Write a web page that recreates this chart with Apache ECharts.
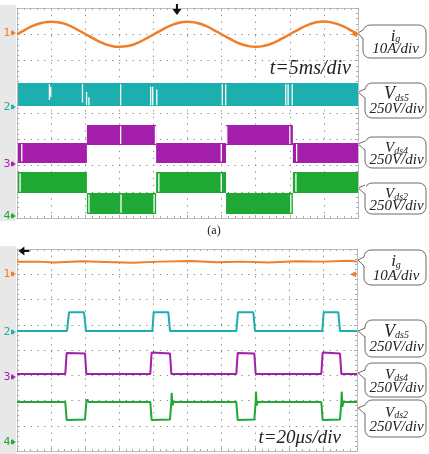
<!DOCTYPE html>
<html>
<head>
<meta charset="utf-8">
<script src="https://cdn.jsdelivr.net/npm/echarts@6/dist/echarts.min.js"></script>
<style>
  html, body { margin: 0; padding: 0; background: #fff; }
  #chart { width: 429px; height: 454px; }
</style>
</head>
<body>
<div id="chart"></div>
<script>
// ---- data, in scope divisions (x: 0..10, y: 0..8) ----
// (a) t = 5 ms/div
const igA = [
  [0, 7.00], [0.25, 7.18], [0.5, 7.34], [0.75, 7.44], [1, 7.48], [1.25, 7.45], [1.5, 7.35], [1.75, 7.19],
  [2, 7.01], [2.25, 6.83], [2.5, 6.67], [2.75, 6.56], [3, 6.52], [3.25, 6.55], [3.5, 6.65], [3.75, 6.81],
  [4, 6.99], [4.25, 7.17], [4.5, 7.33], [4.75, 7.44], [5, 7.48], [5.25, 7.44], [5.5, 7.34], [5.75, 7.18],
  [6, 7.00], [6.25, 6.82], [6.5, 6.66], [6.75, 6.56], [7, 6.52], [7.25, 6.56], [7.5, 6.66], [7.75, 6.82],
  [8, 7.00], [8.25, 7.18], [8.5, 7.34], [8.75, 7.45], [9, 7.49], [9.25, 7.44], [9.5, 7.34], [9.75, 7.18],
  [10, 7.00]
];
// switching bands: [xStart, xEnd, yLow, yHigh]
const vds5BandA = [[0.03, 10, 4.27, 5.14]];
const vds4BandA = [
  [0.03, 2.05, 2.10, 2.86], [2.05, 4.08, 2.78, 3.54], [4.08, 6.13, 2.10, 2.86],
  [6.13, 8.09, 2.78, 3.54], [8.09, 10, 2.10, 2.86]
];
const vds2BandA = [
  [0.03, 2.05, 0.95, 1.75], [2.05, 4.08, 0.15, 0.95], [4.08, 6.13, 0.95, 1.75],
  [6.13, 8.09, 0.15, 0.95], [8.09, 10, 0.95, 1.75]
];
// white glitches inside the bands: [x, yFrom, yTo]
const bandGapsA = [
  [0.95, 4.5, 5.1], [0.99, 4.6, 5.0], [1.92, 4.4, 5.1], [2.04, 4.3, 4.8], [2.11, 4.3, 4.6],
  [3.04, 4.3, 5.1], [3.92, 4.3, 5.0], [3.98, 4.3, 5.0], [4.10, 4.3, 4.9], [6.02, 4.3, 5.1],
  [6.12, 4.3, 5.1], [7.88, 4.3, 5.1], [7.95, 4.3, 5.1], [8.07, 4.3, 5.1],
  [0.14, 2.15, 2.82], [3.04, 2.82, 3.5], [4.06, 2.82, 3.5], [5.99, 2.15, 2.82], [6.15, 2.82, 3.5],
  [8.0, 2.82, 3.5], [8.2, 2.15, 2.82],
  [0.09, 1.0, 1.7], [2.11, 0.2, 0.9], [3.05, 0.2, 0.9], [4.02, 0.2, 0.9], [4.16, 1.0, 1.7],
  [5.99, 1.0, 1.7], [8.03, 0.2, 0.9], [8.18, 1.0, 1.7]
];
const markersA = [7.05, 4.23, 2.06, 0.08];
const triggerA = [4.69, 8.0];

// (b) t = 20 us/div
const igB = [
  [0, 7.50], [0.6, 7.50], [1.1, 7.47], [1.9, 7.51], [2.6, 7.49], [3.4, 7.46], [4.2, 7.50],
  [5.1, 7.52], [5.9, 7.48], [6.6, 7.50], [7.4, 7.47], [8.2, 7.51], [9.0, 7.50], [9.8, 7.53], [10, 7.50]
];
const vds5B = [
  [0, 4.75], [1.47, 4.75], [1.53, 5.50], [1.97, 5.50], [2.03, 4.75], [3.98, 4.75], [4.02, 5.50],
  [4.45, 5.50], [4.50, 4.75], [6.45, 4.75], [6.50, 5.50], [6.95, 5.50], [7.00, 4.75], [8.98, 4.75],
  [9.02, 5.50], [9.45, 5.50], [9.50, 4.75], [10, 4.75]
];
const vds4B = [
  [0, 3.05], [1.42, 3.05], [1.46, 3.88], [2.00, 3.86], [2.04, 3.05], [3.92, 3.05], [3.96, 3.90],
  [4.50, 3.86], [4.54, 3.05], [6.45, 3.05], [6.49, 3.88], [6.98, 3.86], [7.02, 3.05], [8.95, 3.05],
  [8.99, 3.90], [9.50, 3.86], [9.54, 3.05], [10, 3.05]
];
const vds2B = [
  [0, 1.94], [1.42, 1.94], [1.46, 1.23], [2.00, 1.25], [2.04, 1.94], [2.07, 2.05], [2.10, 1.94],
  [3.92, 1.94], [3.96, 1.23], [4.50, 1.25], [4.54, 1.94], [4.55, 2.30], [4.57, 1.80], [4.60, 1.94],
  [6.45, 1.94], [6.49, 1.23], [6.98, 1.25], [7.02, 1.94], [7.03, 2.35], [7.05, 1.80], [7.08, 1.94],
  [8.95, 1.94], [8.99, 1.23], [9.50, 1.25], [9.54, 1.94], [9.55, 2.35], [9.57, 1.75], [9.60, 1.94],
  [10, 1.94]
];
const markersB = [7.01, 4.71, 2.93, 0.36];
const triggerB = [0.1, 7.92];

const colors = ['#f07d28', '#1daeae', '#a21eab', '#1fa834'];
const serif = '"Liberation Serif", "DejaVu Serif", serif';

const chart = echarts.init(document.getElementById('chart'));

function xAxisPair(gi) {
  const base = {
    type: 'value', gridIndex: gi, min: 0, max: 10, interval: 1,
    axisLabel: { show: false },
    axisLine: { show: true, onZero: false, lineStyle: { color: '#bdbdbd', width: 1 } },
    axisTick: { show: true, inside: true, length: 3, lineStyle: { color: '#aaa' } },
    minorTick: { show: true, splitNumber: 5, length: 2, lineStyle: { color: '#aaa' } }
  };
  return [
    Object.assign({}, base, { position: 'bottom',
      splitLine: { show: true, lineStyle: { color: '#8a8a8a', type: [1.3, 5.5], width: 1 } } }),
    Object.assign({}, base, { position: 'top', splitLine: { show: false } })
  ];
}
function yAxisPair(gi) {
  const base = {
    type: 'value', gridIndex: gi, min: 0, max: 8, interval: 1,
    axisLabel: { show: false },
    axisLine: { show: true, onZero: false, lineStyle: { color: '#bdbdbd', width: 1 } },
    axisTick: { show: true, inside: true, length: 3, lineStyle: { color: '#aaa' } },
    minorTick: { show: true, splitNumber: 5, length: 2, lineStyle: { color: '#aaa' } }
  };
  return [
    Object.assign({}, base, { position: 'left',
      splitLine: { show: true, lineStyle: { color: '#8a8a8a', type: [1.3, 5.5], width: 1 } } }),
    Object.assign({}, base, { position: 'right', splitLine: { show: false } })
  ];
}

function bandSeries(data, color, xi, yi) {
  return {
    type: 'custom', xAxisIndex: xi, yAxisIndex: yi, silent: true,
    encode: { x: [0, 1], y: [2, 3] },
    data: data,
    renderItem: function (params, api) {
      const p0 = api.coord([api.value(0), api.value(3)]);
      const p1 = api.coord([api.value(1), api.value(2)]);
      return {
        type: 'rect',
        shape: { x: p0[0], y: p0[1], width: p1[0] - p0[0], height: p1[1] - p0[1] },
        style: { fill: color }
      };
    }
  };
}

function gapSeries(data, xi, yi) {
  return {
    type: 'custom', xAxisIndex: xi, yAxisIndex: yi, silent: true, z: 4,
    encode: { x: 0, y: [1, 2] },
    data: data,
    renderItem: function (params, api) {
      const a = api.coord([api.value(0), api.value(1)]);
      const b = api.coord([api.value(0), api.value(2)]);
      return {
        type: 'line',
        shape: { x1: a[0], y1: a[1], x2: b[0], y2: b[1] },
        style: { stroke: '#fff', lineWidth: 1.3 }
      };
    }
  };
}

function markerSeries(levels, xi, yi) {
  return {
    type: 'custom', xAxisIndex: xi, yAxisIndex: yi, silent: true, clip: false, z: 6,
    encode: { x: 0, y: 1 },
    data: levels.map(v => [0, v]),
    renderItem: function (params, api) {
      const p = api.coord([api.value(0), api.value(1)]);
      const c = colors[params.dataIndex];
      return {
        type: 'group',
        children: [
          { type: 'text', style: { text: String(params.dataIndex + 1), x: p[0] - 10, y: p[1],
              fill: c, font: '11px "DejaVu Sans", sans-serif', align: 'center', verticalAlign: 'middle' } },
          { type: 'polygon', shape: { points: [[p[0] - 6, p[1] - 2.5], [p[0] - 1, p[1]], [p[0] - 6, p[1] + 2.5]] },
              style: { fill: c } },
          { type: 'line', shape: { x1: p[0] - 4, y1: p[1] - 2.5, x2: p[0] - 4, y2: p[1] + 2.5 },
              style: { stroke: c, lineWidth: 1 } }
        ]
      };
    }
  };
}

function triggerSeries(pos, dir, xi, yi) {
  return {
    type: 'custom', xAxisIndex: xi, yAxisIndex: yi, silent: true, clip: false, z: 6,
    encode: { x: 0, y: 1 },
    data: [pos],
    renderItem: function (params, api) {
      const p = api.coord([api.value(0), api.value(1)]);
      if (dir === 'down') {
        return { type: 'group', children: [
          { type: 'line', shape: { x1: p[0], y1: p[1] - 4, x2: p[0], y2: p[1] + 3 }, style: { stroke: '#111', lineWidth: 2 } },
          { type: 'polygon', shape: { points: [[p[0] - 4.5, p[1] + 1], [p[0] + 4.5, p[1] + 1], [p[0], p[1] + 7]] }, style: { fill: '#111' } }
        ] };
      }
      return { type: 'group', children: [
        { type: 'line', shape: { x1: p[0] + 1, y1: p[1], x2: p[0] + 9, y2: p[1] }, style: { stroke: '#111', lineWidth: 2 } },
        { type: 'polygon', shape: { points: [[p[0] + 4, p[1] - 4.5], [p[0] + 4, p[1] + 4.5], [p[0] - 2, p[1]]] }, style: { fill: '#111' } }
      ] };
    }
  };
}

function rightArrowSeries(level, xi, yi) {
  return {
    type: 'custom', xAxisIndex: xi, yAxisIndex: yi, silent: true, clip: false, z: 6,
    encode: { x: 0, y: 1 },
    data: [[10, level]],
    renderItem: function (params, api) {
      const p = api.coord([api.value(0), api.value(1)]);
      return { type: 'group', children: [
        { type: 'polygon', shape: { points: [[p[0] - 1, p[1] - 3], [p[0] - 7, p[1]], [p[0] - 1, p[1] + 3]] }, style: { fill: colors[0] } },
        { type: 'line', shape: { x1: p[0] - 4, y1: p[1], x2: p[0], y2: p[1] }, style: { stroke: colors[0], lineWidth: 1.5 } }
      ] };
    }
  };
}

function lineSeries(data, color, xi, yi, smooth, width) {
  return {
    type: 'line', xAxisIndex: xi, yAxisIndex: yi, data: data, smooth: smooth,
    showSymbol: false, silent: true, z: 5,
    lineStyle: { color: color, width: width }
  };
}

// callout boxes on the right
function callout(x, y, w, h, tipY, line1, line2, big) {
  const tipX = 358;
  const cx = x + w / 2 + 1;
  return {
    type: 'group', children: [
      { type: 'rect', shape: { x: x, y: y, width: w, height: h, r: 7 },
        style: { fill: '#fff', stroke: '#6a6a6a', lineWidth: 1 } },
      { type: 'polygon', shape: { points: [[x + 1, tipY - 3], [tipX, tipY], [x + 1, tipY + 6]] },
        style: { fill: '#fff' } },
      { type: 'polyline', shape: { points: [[x, tipY - 3], [tipX, tipY], [x, tipY + 6]] },
        style: { stroke: '#6a6a6a', fill: null, lineWidth: 1 } },
      { type: 'text', style: {
          text: line1, x: cx, y: y + h * 0.32, align: 'center', verticalAlign: 'middle',
          rich: {
            b: { fontFamily: serif, fontStyle: 'italic', fontSize: big, lineHeight: 18, fill: '#222', verticalAlign: 'bottom' },
            s: { fontFamily: serif, fontStyle: 'italic', fontSize: 10, lineHeight: 9, fill: '#222', verticalAlign: 'bottom' }
          } } },
      { type: 'text', style: {
          text: line2, x: cx, y: y + h * 0.74, align: 'center', verticalAlign: 'middle',
          font: 'italic 15px ' + serif, fill: '#222' } }
    ]
  };
}

const option = {
  animation: false,
  backgroundColor: '#fff',
  grid: [
    { left: 17, top: 8, width: 341, height: 210 },
    { left: 17, top: 249, width: 340, height: 202 }
  ],
  xAxis: [].concat(xAxisPair(0), xAxisPair(1)),
  yAxis: [].concat(yAxisPair(0), yAxisPair(1)),
  series: [
    bandSeries(vds5BandA, colors[1], 0, 0),
    bandSeries(vds4BandA, colors[2], 0, 0),
    bandSeries(vds2BandA, colors[3], 0, 0),
    gapSeries(bandGapsA, 0, 0),
    lineSeries(igA, colors[0], 0, 0, true, 2.5),
    markerSeries(markersA, 0, 0),
    triggerSeries(triggerA, 'down', 0, 0),
    rightArrowSeries(7.0, 0, 0),

    lineSeries(igB, colors[0], 2, 2, false, 2),
    lineSeries(vds5B, colors[1], 2, 2, false, 2),
    lineSeries(vds4B, colors[2], 2, 2, false, 2),
    lineSeries(vds2B, colors[3], 2, 2, false, 2),
    markerSeries(markersB, 2, 2),
    triggerSeries(triggerB, 'left', 2, 2),
    rightArrowSeries(7.0, 2, 2)
  ],
  graphic: [
    { type: 'rect', z: -1, shape: { x: 0, y: 5, width: 16, height: 216 }, style: { fill: '#e8e8e8' } },
    { type: 'rect', z: -1, shape: { x: 0, y: 246, width: 16, height: 208 }, style: { fill: '#e8e8e8' } },

    { type: 'text', style: { text: 't=5ms/div', x: 351, y: 69, align: 'right', verticalAlign: 'middle',
        font: 'italic 20px ' + serif, fill: '#222' } },
    { type: 'text', style: { text: 't=20μs/div', x: 341, y: 438, align: 'right', verticalAlign: 'middle',
        font: 'italic 19px ' + serif, fill: '#222' } },
    { type: 'text', style: { text: '(a)', x: 214, y: 231, align: 'center', verticalAlign: 'middle',
        font: '12px ' + serif, fill: '#222' } },

    callout(363, 25, 63, 33, 33, '{b|i}{s|g}', '10A/div', 17),
    callout(365, 83, 61, 35, 92, '{b|V}{s|ds5}', '250V/div', 18),
    callout(365, 137, 61, 31, 144, '{b|V}{s|ds4}', '250V/div', 15),
    callout(365, 183, 61, 31, 188, '{b|V}{s|ds2}', '250V/div', 15),

    callout(364, 250, 62, 35, 260, '{b|i}{s|g}', '10A/div', 17),
    callout(365, 320, 61, 37, 331, '{b|V}{s|ds5}', '250V/div', 18),
    callout(365, 363, 61, 34, 373, '{b|V}{s|ds4}', '250V/div', 15),
    callout(365, 400, 61, 37, 408, '{b|V}{s|ds2}', '250V/div', 15)
  ]
};

chart.setOption(option);
</script>
</body>
</html>
